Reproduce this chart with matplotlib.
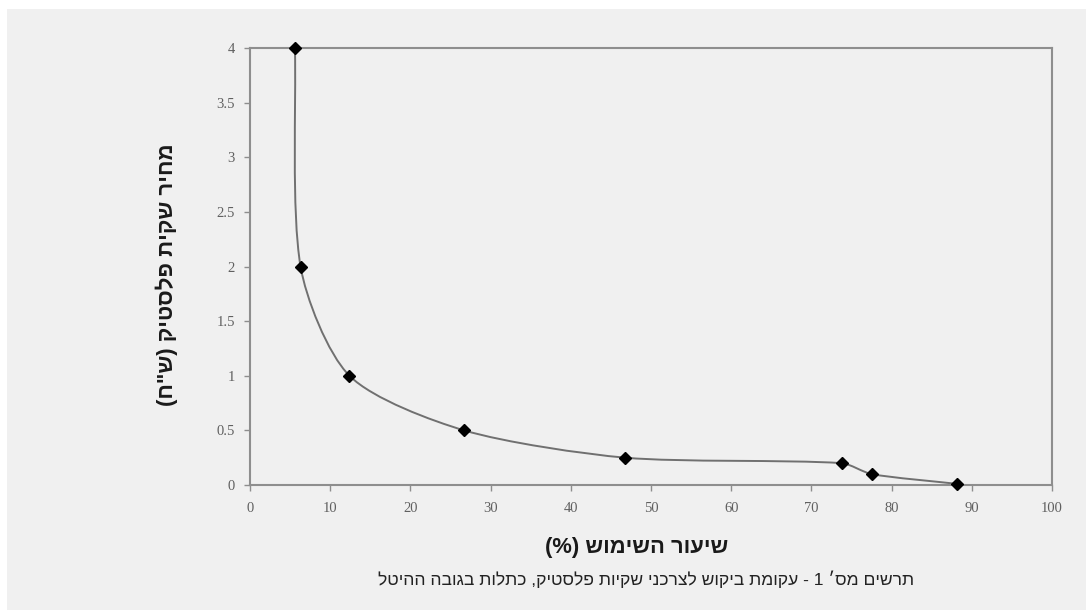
import matplotlib
matplotlib.use('Agg')
import matplotlib.pyplot as plt
from matplotlib.path import Path
from matplotlib.patches import PathPatch, Rectangle
import numpy as np

# ---- data ----
usage_pct = [5.6, 6.3, 12.4, 26.7, 46.8, 73.8, 77.5, 88.2]
bag_price = [4, 2, 1, 0.5, 0.25, 0.2, 0.1, 0.01]
x_ticks = [0, 10, 20, 30, 40, 50, 60, 70, 80, 90, 100]
x_tick_labels = ['0', '10', '20', '30', '40', '50', '60', '70', '80', '90', '100']
y_ticks = [0, 0.5, 1, 1.5, 2, 2.5, 3, 3.5, 4]
y_tick_labels = ['0', '0.5', '1', '1.5', '2', '2.5', '3', '3.5', '4']

ylabel_text = 'מחיר שקית פלסטיק (ש"ח)'
xlabel_text = 'שיעור השימוש (%)'
caption_text = "תרשים מס׳ 1 - עקומת ביקוש לצרכני שקיות פלסטיק, כתלות בגובה ההיטל"


def visual(s):
    """Right-to-left text -> visual (left-to-right) order for matplotlib."""
    swap = {'(': ')', ')': '('}
    return ''.join(swap.get(c, c) for c in reversed(s))


W, H = 1086, 610
fig = plt.figure(figsize=(W / 100, H / 100), dpi=100, facecolor='white')
fig.add_artist(Rectangle((7 / W, 0), 1, 1 - 9 / H, transform=fig.transFigure,
                         facecolor='#f0f0f0', edgecolor='none', zorder=-10))

left, right, top, bottom = 250, 1052, 48, 485
ax = fig.add_axes([left / W, 1 - bottom / H, (right - left) / W, (bottom - top) / H])
ax.set_facecolor('#f0f0f0')
ax.set_xlim(0, 100)
ax.set_ylim(0, 4)

# smoothed line (Excel-style) through the data points, built in display space
pts = ax.transData.transform(np.column_stack([usage_pct, bag_price]))
n = len(pts)


def unit(v):
    return v / np.hypot(*v)


tang = []
for i in range(n):
    a = pts[i - 1] if i > 0 else pts[i]
    b = pts[i + 1] if i < n - 1 else pts[i]
    tang.append(unit(b - a))

k = 0.26
verts = [pts[0]]
codes = [Path.MOVETO]
for i in range(n - 1):
    L = np.hypot(*(pts[i + 1] - pts[i]))
    c1 = pts[i] + tang[i] * L * k
    c2 = pts[i + 1] - tang[i + 1] * L * k
    verts += [c1, c2, pts[i + 1]]
    codes += [Path.CURVE4] * 3
data_verts = ax.transData.inverted().transform(np.array(verts))
ax.add_patch(PathPatch(Path(data_verts, codes), fill=False, edgecolor='#707070',
                       lw=1.4, transform=ax.transData, clip_on=False, zorder=2))

ax.plot(usage_pct, bag_price, linestyle='none', marker='D', color='black',
        markersize=6.2, clip_on=False, zorder=3)

for sp in ax.spines.values():
    sp.set_color('#8e8e8e')
    sp.set_linewidth(1.5)

ax.set_xticks(x_ticks)
ax.set_xticklabels(x_tick_labels)
ax.set_yticks(y_ticks)
ax.set_yticklabels(y_tick_labels)
ax.tick_params(axis='both', direction='out', length=4, width=1, color='#8e8e8e',
               labelcolor='#606060', labelsize=10.5)
ax.tick_params(axis='x', pad=8)
ax.tick_params(axis='y', pad=7)
for lab in ax.get_xticklabels() + ax.get_yticklabels():
    lab.set_fontfamily(['Liberation Serif', 'DejaVu Serif'])

heb = ['Liberation Sans', 'DejaVu Sans']
fig.text(167 / W, 1 - 275 / H, visual(ylabel_text), rotation=90, ha='center', va='center',
         fontsize=16, fontweight='bold', family=heb, color='#1a1a1a')
fig.text(637 / W, 1 - 548 / H, visual(xlabel_text), ha='center', va='center',
         fontsize=15.8, fontweight='bold', family=heb, color='#1a1a1a')
fig.text(646 / W, 1 - 579 / H, visual(caption_text), ha='center', va='center',
         fontsize=12.6, family=heb, color='#222222')

fig.savefig('out.png', dpi=100, facecolor=fig.get_facecolor())
